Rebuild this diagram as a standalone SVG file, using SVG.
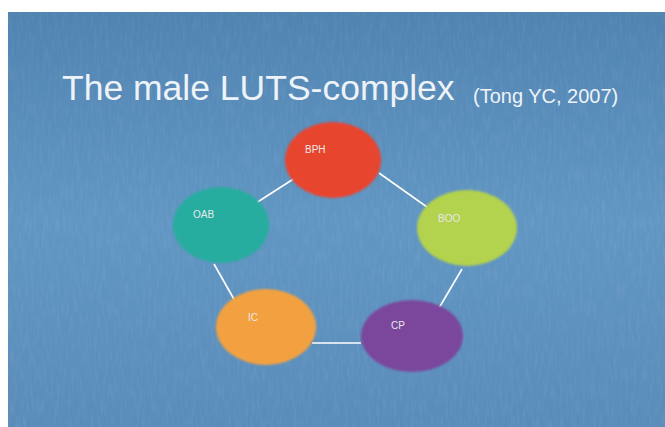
<svg xmlns="http://www.w3.org/2000/svg" width="665" height="427" viewBox="0 0 665 427">
<defs>
<linearGradient id="bg" x1="0" y1="0" x2="0" y2="1">
<stop offset="0" stop-color="#5083b1"/>
<stop offset="0.5" stop-color="#6196c3"/>
<stop offset="1" stop-color="#5a8cba"/>
</linearGradient>
<filter id="grain" x="0" y="0" width="100%" height="100%">
<feTurbulence type="fractalNoise" baseFrequency="0.35 0.06" numOctaves="2" seed="3" result="n"/>
<feColorMatrix in="n" type="matrix" values="0 0 0 0 1  0 0 0 0 1  0 0 0 0 1  0 0 0 0.5 -0.2"/>
</filter>
<filter id="soft" x="-10%" y="-10%" width="120%" height="120%"><feGaussianBlur stdDeviation="1"/></filter>
</defs>
<style>
.node text{font-family:"Liberation Sans","DejaVu Sans",sans-serif;font-size:10px;fill:#e8e8e8}
.conn line{stroke:#ffffff;stroke-width:1.6}
.title{font-family:"Liberation Sans","DejaVu Sans",sans-serif;fill:#eef3f8}
</style>
<rect x="0" y="0" width="665" height="427" fill="#ffffff"/>
<rect x="8" y="12" width="657" height="415" fill="url(#bg)"/>
<rect x="8" y="12" width="657" height="415" filter="url(#grain)" opacity="0.25" transform="rotate(0)"/>
<g id="title">
<text class="title" x="62" y="100" font-size="35.5">The male LUTS-complex</text>
<text class="title" x="473" y="103" font-size="20">(Tong YC, 2007)</text>
</g>
<g id="connectors" class="conn">
<line x1="295" y1="178" x2="256" y2="203"/>
<line x1="379" y1="173" x2="427" y2="207"/>
<line x1="214" y1="264" x2="235" y2="301"/>
<line x1="462" y1="269" x2="439" y2="308"/>
<line x1="312" y1="343" x2="361" y2="343"/>
</g>
<g id="bph" class="node">
<ellipse cx="333" cy="160" rx="48" ry="38" fill="#e8442f" filter="url(#soft)"/>
<text x="305" y="153">BPH</text>
</g>
<g id="oab" class="node">
<ellipse cx="221" cy="225" rx="48" ry="38" fill="#25ad9f" filter="url(#soft)"/>
<text x="193" y="218">OAB</text>
</g>
<g id="boo" class="node">
<ellipse cx="467" cy="228" rx="50" ry="38" fill="#b3d24e" filter="url(#soft)"/>
<text x="438" y="222">BOO</text>
</g>
<g id="ic" class="node">
<ellipse cx="266" cy="327" rx="50" ry="38" fill="#f3a13f" filter="url(#soft)"/>
<text x="248" y="321">IC</text>
</g>
<g id="cp" class="node">
<ellipse cx="412" cy="336" rx="51" ry="36" fill="#7a479d" filter="url(#soft)"/>
<text x="391" y="329">CP</text>
</g>
</svg>
